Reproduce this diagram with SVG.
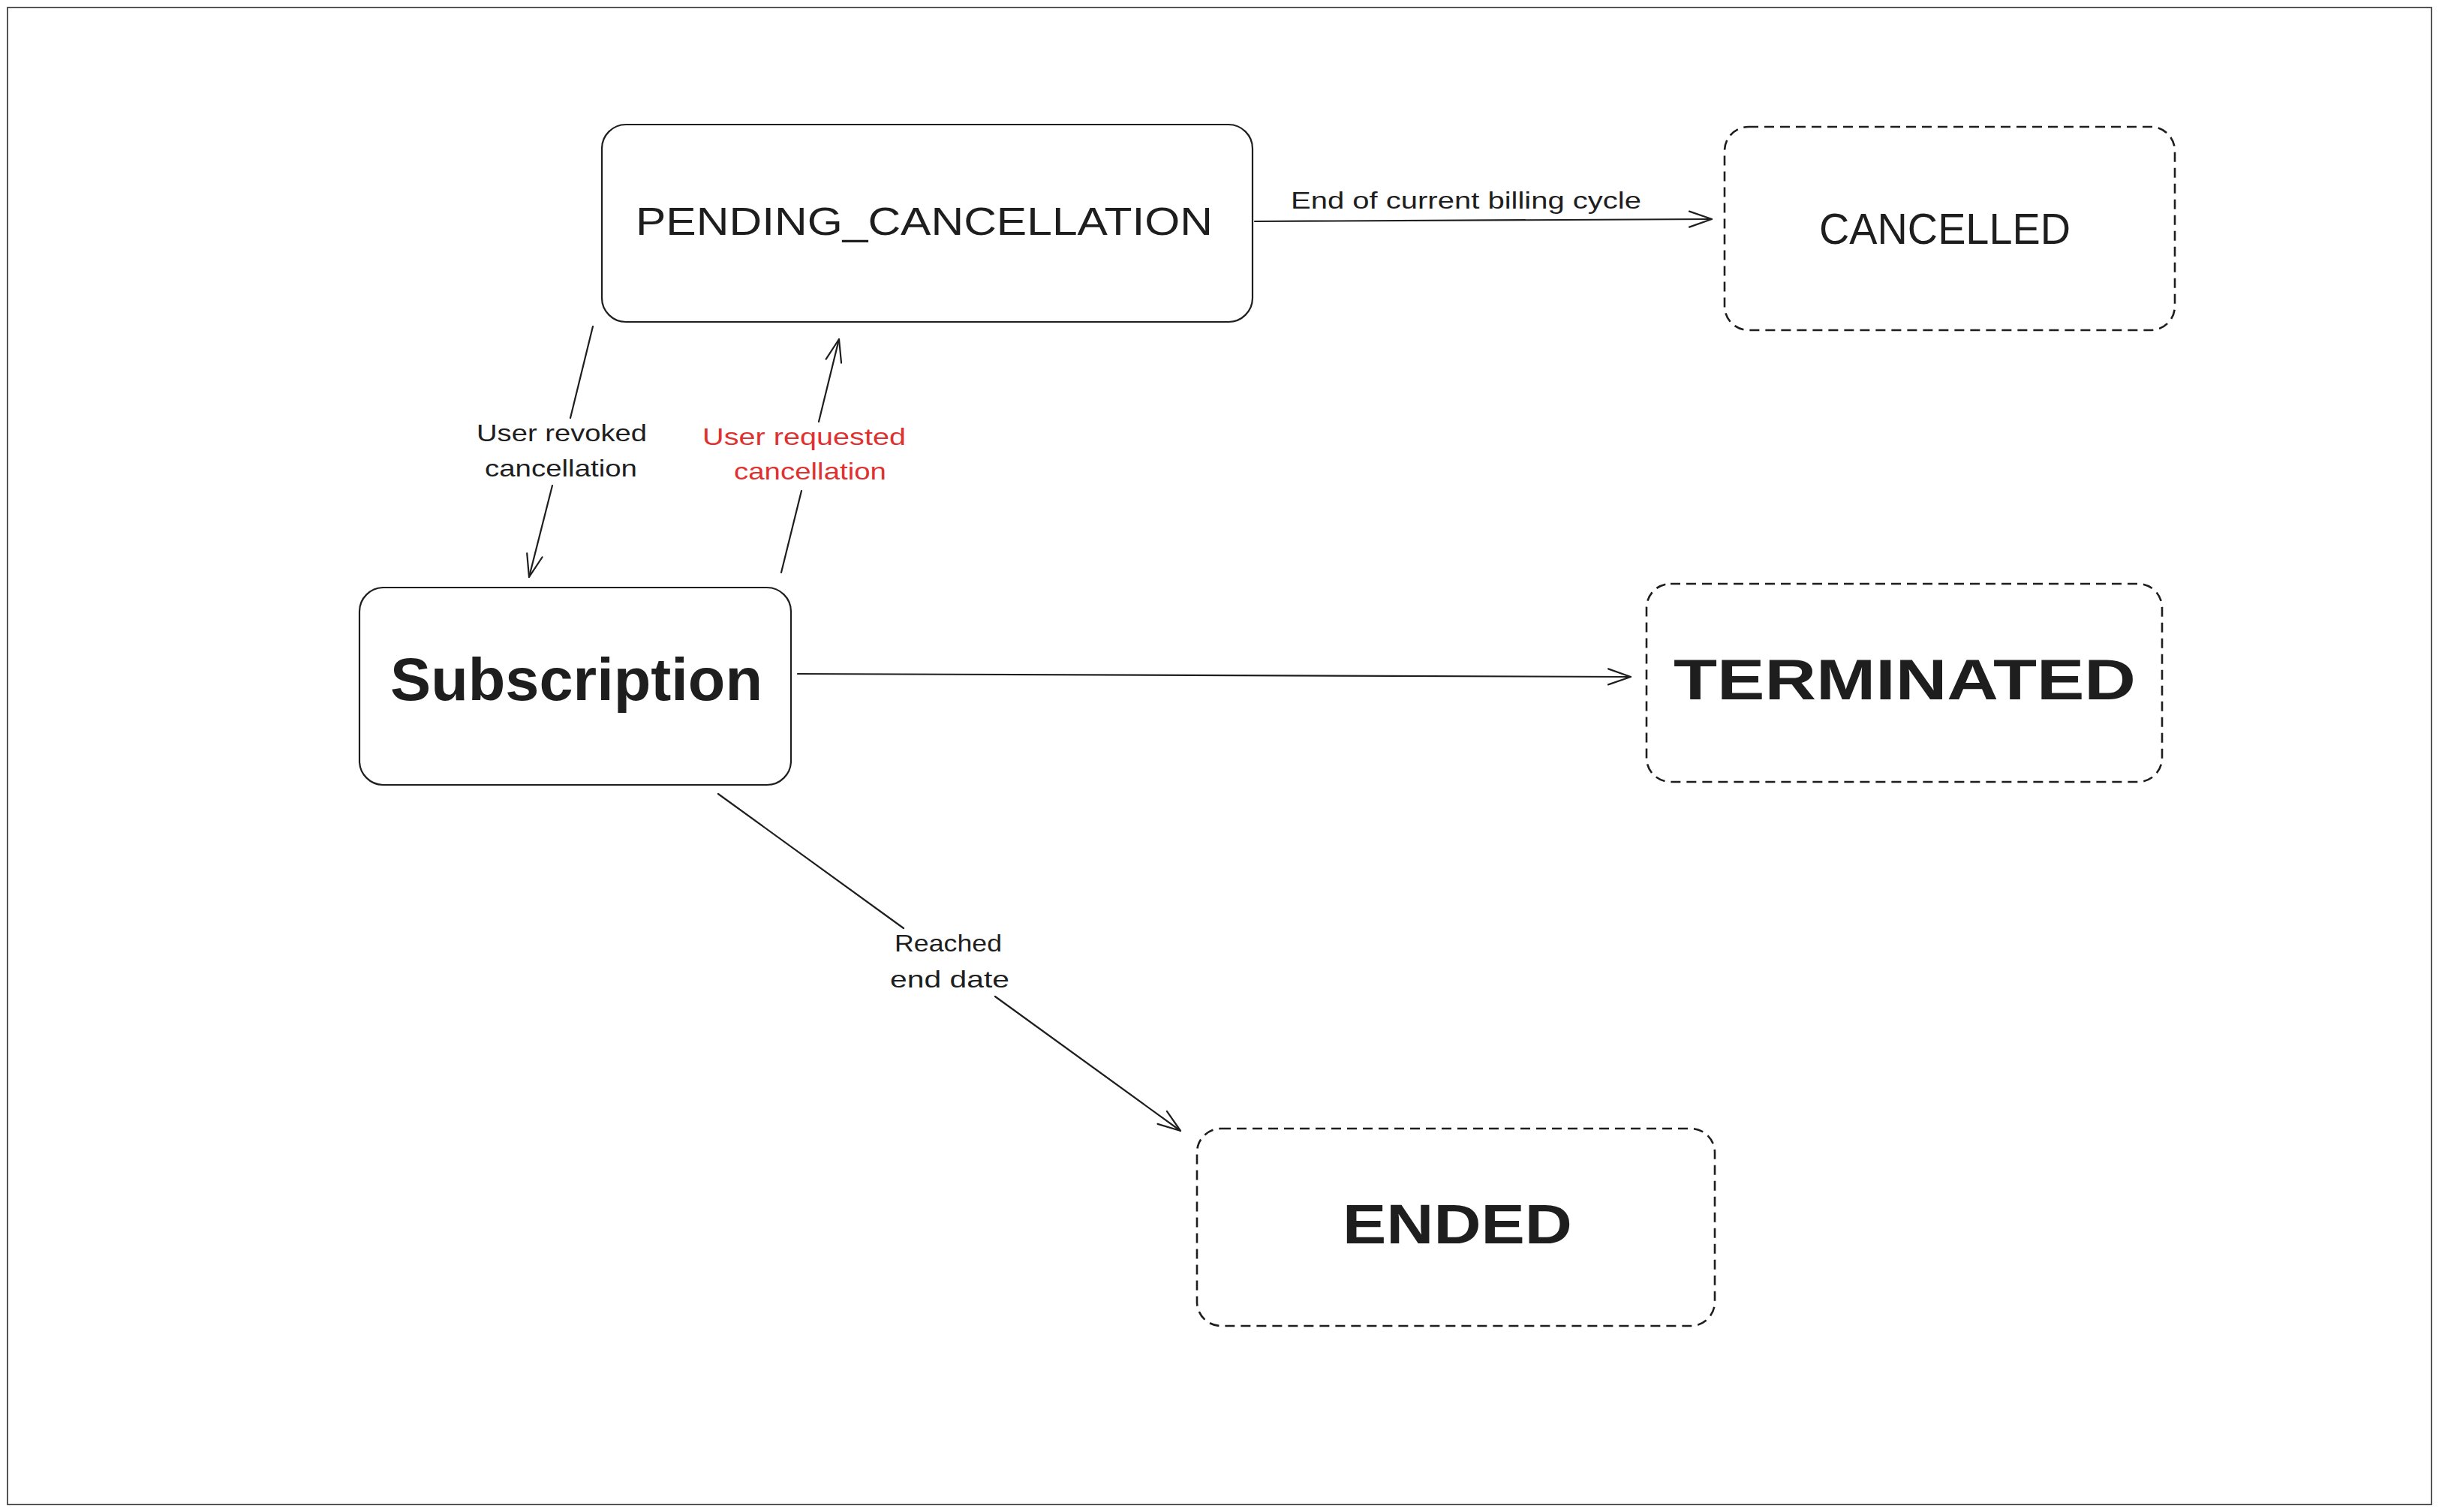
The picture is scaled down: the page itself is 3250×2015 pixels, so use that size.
<svg xmlns="http://www.w3.org/2000/svg" width="3250" height="2015" viewBox="0 0 3250 2015">
<style>
  .box { fill: #ffffff; stroke: #1e1e1e; stroke-width: 2.2; }
  .dash { fill: #ffffff; stroke: #1e1e1e; stroke-width: 2.6; stroke-dasharray: 13 8; }
  .title { font-family: "Liberation Sans", "Noto Sans", sans-serif; fill: #1e1e1e; text-anchor: start; }
  .big { font-weight: bold; }
  .lbl { font-family: "Liberation Sans", "Noto Sans", sans-serif; font-size: 32px; fill: #1e1e1e; }
  .red { fill: #e03131; }
  .conn { fill: none; stroke: #1e1e1e; stroke-width: 2.2; stroke-linecap: round; marker-end: url(#arrow); }
</style>
<defs>
  <marker id="arrow" markerUnits="userSpaceOnUse" viewBox="-34 -14 38 28" refX="0" refY="0" markerWidth="38" markerHeight="28" orient="auto">
    <path d="M -30 -10.5 L 0 0 L -30 10.5" fill="none" stroke="#1e1e1e" stroke-width="2.2" stroke-linecap="round" stroke-linejoin="round"/>
  </marker>
</defs>
<rect x="0" y="0" width="3250" height="2015" fill="#ffffff"/>
<rect x="10" y="10" width="3230" height="1995" fill="none" stroke="#555555" stroke-width="2"/>

<g id="connectors">
  <path class="conn" d="M 1672 295 L 2281 292"/>
  <path class="conn" d="M 790 435 L 760 557 M 736 647 L 705 769"/>
  <path class="conn" d="M 1041 763 L 1068 654 M 1091 562 L 1118 452"/>
  <path class="conn" d="M 1063 898 L 2173 902"/>
  <path class="conn" d="M 957 1058 L 1204 1237 M 1326 1328 L 1573 1507"/>
  <text class="lbl" x="1720" y="278" textLength="467" lengthAdjust="spacingAndGlyphs">End of current billing cycle</text>
  <text class="lbl" x="635" y="588" textLength="227" lengthAdjust="spacingAndGlyphs">User revoked</text>
  <text class="lbl" x="646" y="635" textLength="203" lengthAdjust="spacingAndGlyphs">cancellation</text>
  <text class="lbl red" x="936" y="593" textLength="271" lengthAdjust="spacingAndGlyphs">User requested</text>
  <text class="lbl red" x="978" y="639" textLength="203" lengthAdjust="spacingAndGlyphs">cancellation</text>
  <text class="lbl" x="1192" y="1268" textLength="143" lengthAdjust="spacingAndGlyphs">Reached</text>
  <text class="lbl" x="1186" y="1316" textLength="159" lengthAdjust="spacingAndGlyphs">end date</text>
</g>

<g id="pending_cancellation">
  <rect class="box" x="802" y="166" width="867" height="263" rx="32" ry="32"/>
  <text class="title" x="847" y="313" font-size="52" textLength="769" lengthAdjust="spacingAndGlyphs">PENDING_CANCELLATION</text>
</g>
<g id="cancelled">
  <rect class="dash" x="2298" y="169" width="600" height="271" rx="32" ry="32"/>
  <text class="title" x="2424" y="325" font-size="58" textLength="335" lengthAdjust="spacingAndGlyphs">CANCELLED</text>
</g>
<g id="subscription">
  <rect class="box" x="479" y="783" width="575" height="263" rx="32" ry="32"/>
  <text class="title big" x="520" y="933" font-size="80" textLength="496" lengthAdjust="spacingAndGlyphs">Subscription</text>
</g>
<g id="terminated">
  <rect class="dash" x="2194" y="778" width="687" height="264" rx="32" ry="32"/>
  <text class="title big" x="2230" y="932" font-size="76" textLength="616" lengthAdjust="spacingAndGlyphs">TERMINATED</text>
</g>
<g id="ended">
  <rect class="dash" x="1595" y="1504" width="690" height="263" rx="32" ry="32"/>
  <text class="title big" x="1789" y="1657" font-size="75" textLength="306" lengthAdjust="spacingAndGlyphs">ENDED</text>
</g>
</svg>
